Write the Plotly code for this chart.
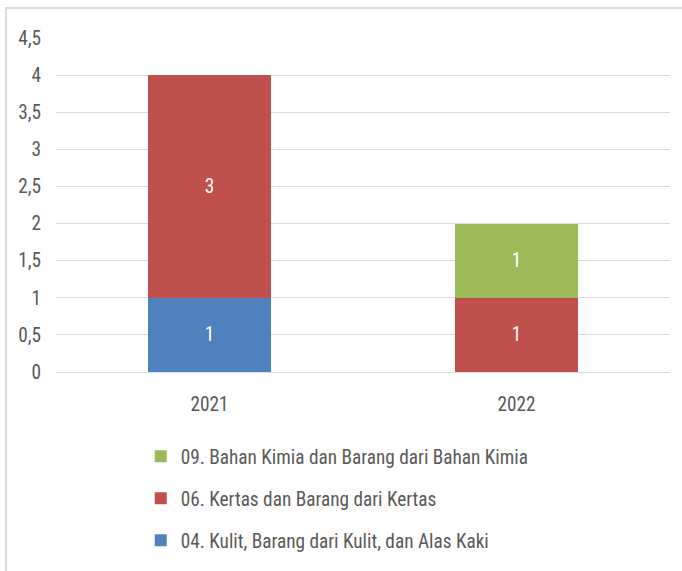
import plotly.graph_objects as go

years = ["2021", "2022"]
series_names = [
    "04. Kulit, Barang dari Kulit, dan Alas Kaki",
    "06. Kertas dan Barang dari Kertas",
    "09. Bahan Kimia dan Barang dari Bahan Kimia",
]
kulit = [1, None]
kertas = [3, 1]
kimia = [None, 1]
colors = ["#4F81BD", "#C0504D", "#9BBB59"]
legend_ranks = [3, 2, 1]
y_ticks = [0, 0.5, 1, 1.5, 2, 2.5, 3, 3.5, 4, 4.5]

FONT = "Liberation Sans Narrow, Arial Narrow, Roboto Condensed, Liberation Sans, sans-serif"
FS = 19.3

fig = go.Figure()
for i, (name, vals) in enumerate(zip(series_names, [kulit, kertas, kimia])):
    fig.add_trace(go.Bar(
        x=years, y=vals, name=name, legendgroup=name, legendrank=legend_ranks[i],
        marker=dict(color=colors[i], line=dict(width=0)),
        texttemplate="%{y}", textposition="inside", insidetextanchor="middle",
        textfont=dict(color="white", size=FS, family=FONT),
    ))

fig.update_layout(
    barmode="stack",
    bargap=0.6,
    width=682, height=571,
    margin=dict(l=56, r=12, t=38, b=199, autoexpand=False),
    paper_bgcolor="white", plot_bgcolor="white",
    separators=",.",
    font=dict(family=FONT, size=FS, color="#595959"),
    xaxis=dict(showgrid=False, showline=False, ticks="", automargin=False, ticklabelstandoff=19,
               tickfont=dict(size=FS, color="#595959")),
    yaxis=dict(range=[0, 4.5], tickvals=y_ticks, showgrid=True, gridcolor="#D9D9D9", gridwidth=1,
               zeroline=True, zerolinecolor="#D9D9D9", zerolinewidth=1, showline=False,
               automargin=False, ticks="", ticklabelstandoff=14,
               tickfont=dict(size=FS, color="#595959")),
    showlegend=True,
    legend=dict(orientation="v", x=0.138, xanchor="left", y=-0.195, yanchor="top",
                traceorder="grouped", tracegroupgap=14,
                font=dict(size=FS, color="#595959", family=FONT),
                bgcolor="rgba(0,0,0,0)", itemwidth=30),
    shapes=[dict(type="rect", xref="paper", yref="paper", x0=-0.0814, x1=1.2, y0=-1.0, y1=1.0898,
                 line=dict(color="#D9D9D9", width=2), fillcolor="rgba(0,0,0,0)", layer="below")],
)

fig.write_html("out.html", config={"displayModeBar": False},
               post_script="document.body.style.margin='0';document.body.style.overflow='hidden';")
